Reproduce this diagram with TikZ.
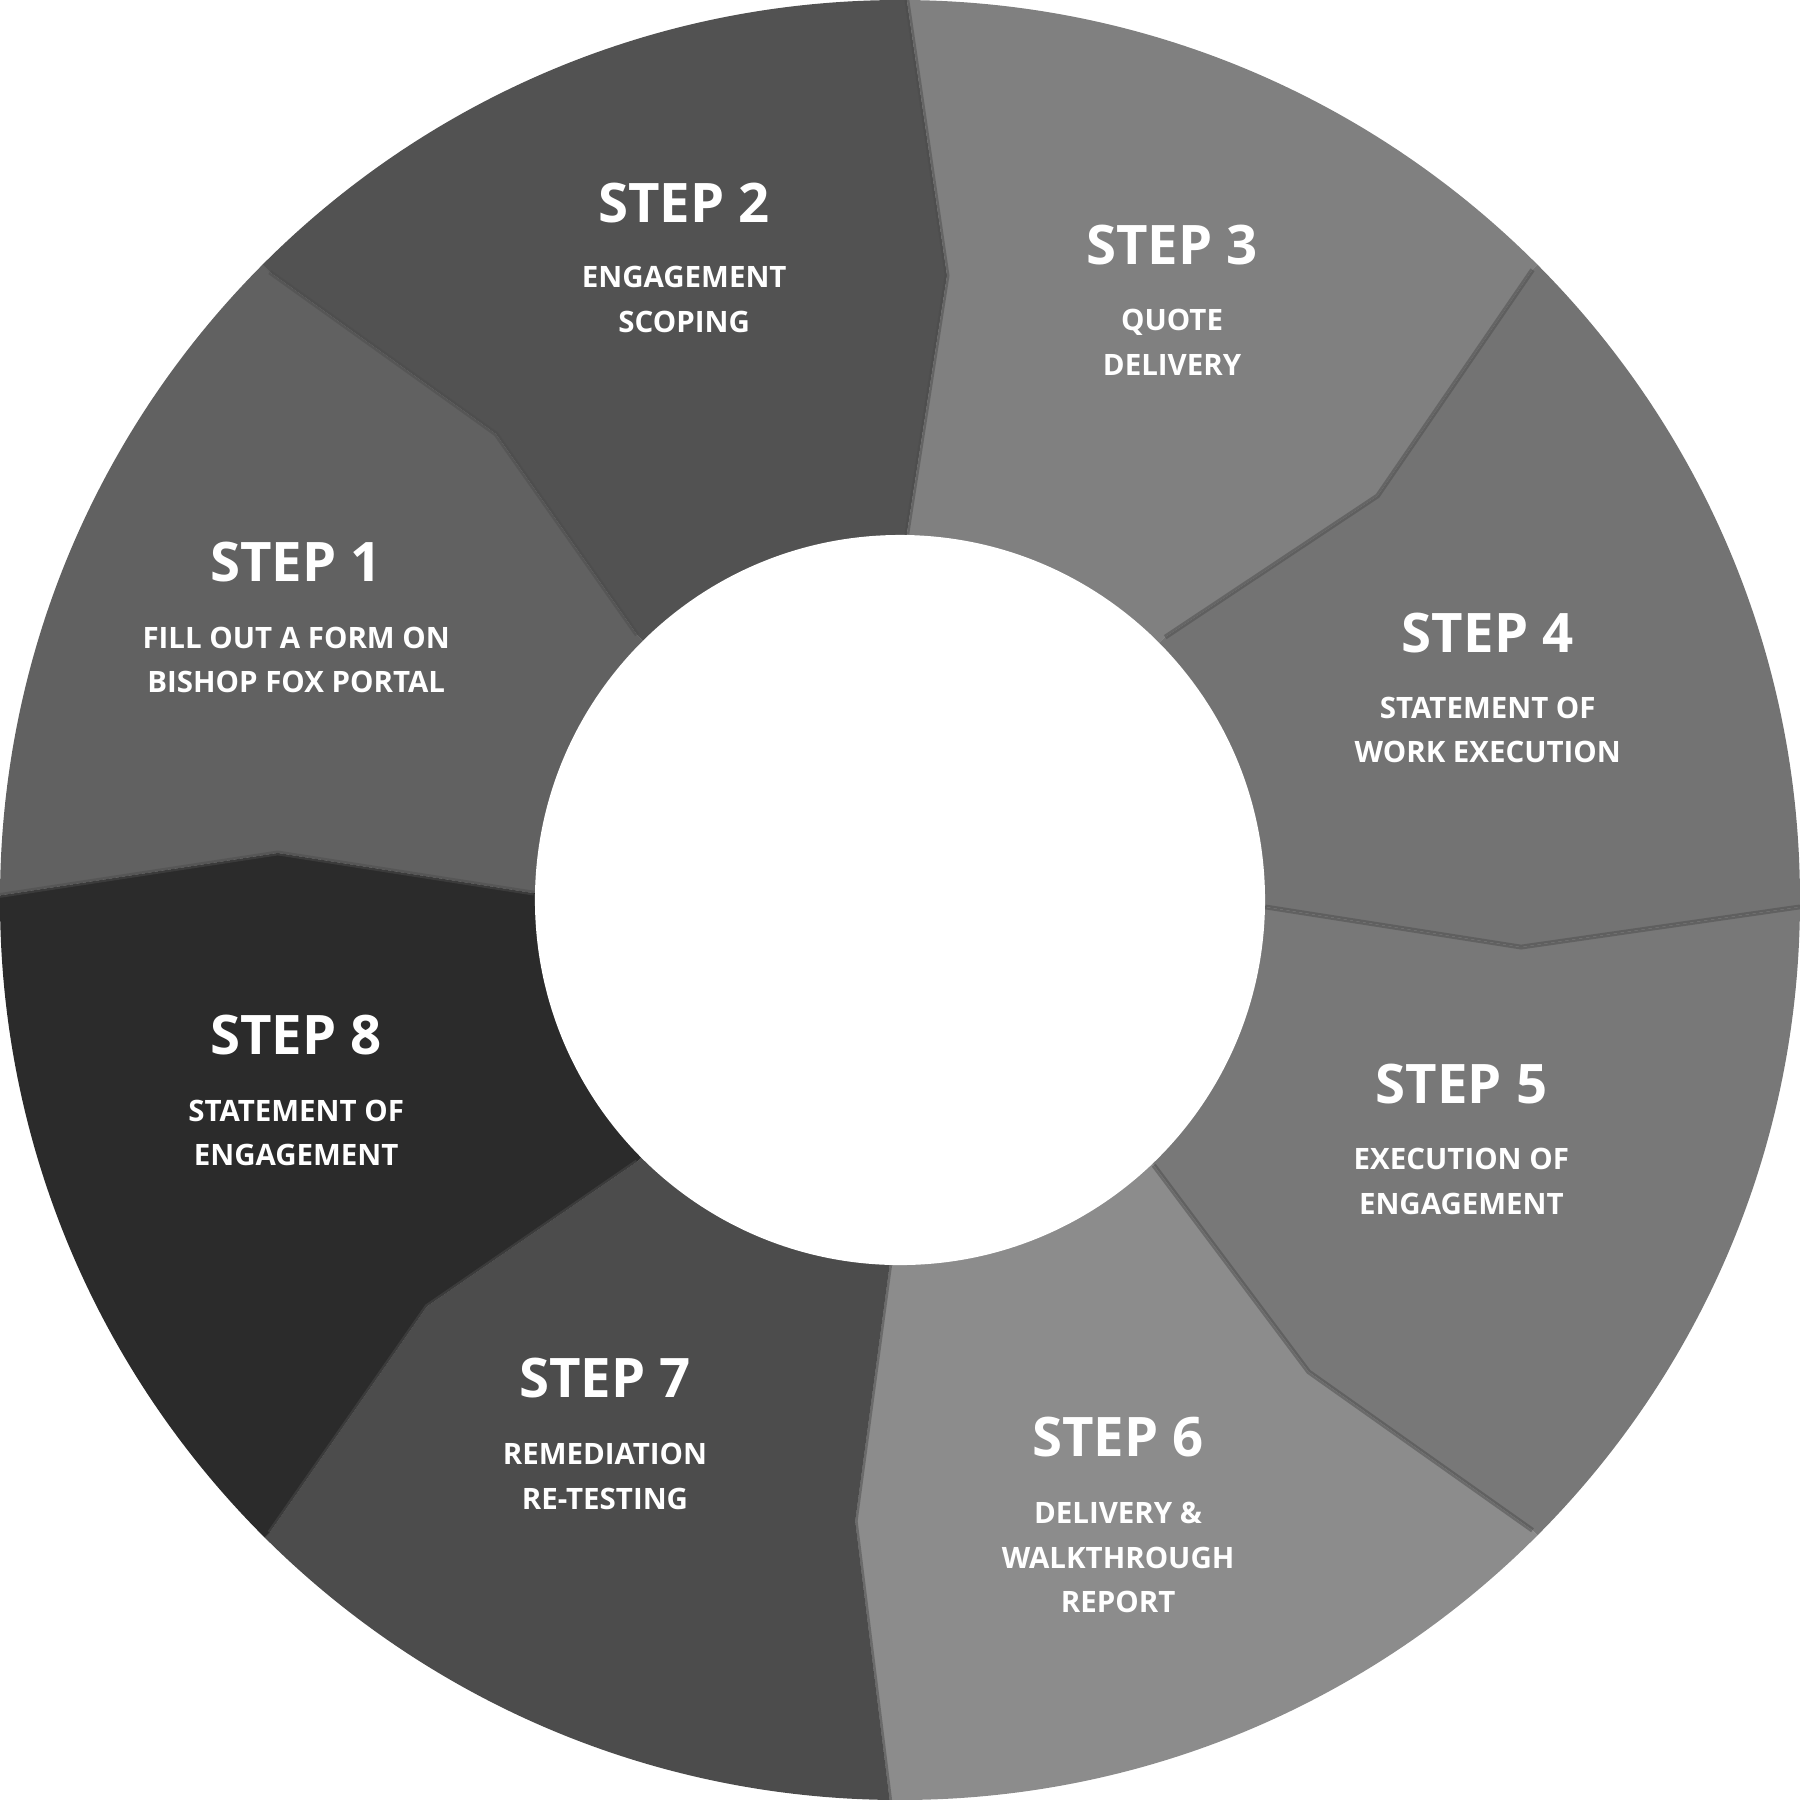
\documentclass[tikz,border=0pt]{standalone}
\usepackage{fontspec}
\setmainfont{Open Sans}
\usetikzlibrary{calc}
\begin{document}
\begin{tikzpicture}[x=0.01cm,y=-0.01cm,
 ttl/.style={text=white,font=\fontsize{13.5}{16}\selectfont\bfseries},
 sub/.style={text=white,font=\fontsize{7.3}{11}\selectfont\bfseries,align=center},
 sep/.style={draw=black!70,line width=1.2pt,opacity=0.5}]
\useasboundingbox (0,0) rectangle (1568,1568);
\coordinate (c) at (784,784);
% boundaries: inner, kink, outer
\coordinate (i1) at (555,553); \coordinate (k1) at (432,378); \coordinate (o1) at (235,237);
\coordinate (i2) at (790,465); \coordinate (k2) at (825,240); \coordinate (o2) at (790,0);
\coordinate (i3) at (1015,555); \coordinate (k3) at (1200,432); \coordinate (o3) at (1335,235);
\coordinate (i4) at (1102,790); \coordinate (k4) at (1325,825); \coordinate (o4) at (1568,790);
\coordinate (i5) at (1005,1015); \coordinate (k5) at (1140,1195); \coordinate (o5) at (1335,1333);
\coordinate (i6) at (775,1102); \coordinate (k6) at (745,1325); \coordinate (o6) at (775,1568);
\coordinate (i7) at (555,1012); \coordinate (k7) at (372,1138); \coordinate (o7) at (235,1335);
\coordinate (i8) at (465,778); \coordinate (k8) at (242,743); \coordinate (o8) at (0,780);
\begin{scope}
\clip (c) circle (784);
\def\seg#1#2#3{\fill[#3] (c) -- (i#1) -- (k#1) -- (o#1) -- ($(c)!2!(o#1)$) -- ($(c)!2!(o#2)$) -- (o#2) -- (k#2) -- (i#2) -- cycle;}
\seg{8}{1}{black!62}
\seg{1}{2}{black!68}
\seg{2}{3}{black!50}
\seg{3}{4}{black!55}
\seg{4}{5}{black!53}
\seg{5}{6}{black!45}
\seg{6}{7}{black!70}
\seg{7}{8}{black!83}
\foreach \n in {1,...,8}{\draw[sep] (i\n) -- (k\n) -- (o\n);}
\end{scope}
\fill[white] (c) circle (318);
\node[ttl] (t1) at (258,490) {STEP 1};
\node[sub] (s1) at (258,575) {FILL OUT A FORM ON\\BISHOP FOX PORTAL};
\node[ttl] (t2) at (596,177) {STEP 2};
\node[sub] (s2) at (596,261) {ENGAGEMENT\\SCOPING};
\node[ttl] (t3) at (1021,213) {STEP 3};
\node[sub] (s3) at (1021,298) {QUOTE\\DELIVERY};
\node[ttl] (t4) at (1296,551) {STEP 4};
\node[sub] (s4) at (1296,636) {STATEMENT OF\\WORK EXECUTION};
\node[ttl] (t5) at (1273,944) {STEP 5};
\node[sub] (s5) at (1273,1029) {EXECUTION OF\\ENGAGEMENT};
\node[ttl] (t6) at (974,1252) {STEP 6};
\node[sub] (s6) at (974,1357) {DELIVERY \&\\WALKTHROUGH\\REPORT};
\node[ttl] (t7) at (527,1200) {STEP 7};
\node[sub] (s7) at (527,1286) {REMEDIATION\\RE-TESTING};
\node[ttl] (t8) at (258,902) {STEP 8};
\node[sub] (s8) at (258,987) {STATEMENT OF\\ENGAGEMENT};
\end{tikzpicture}
\end{document}
